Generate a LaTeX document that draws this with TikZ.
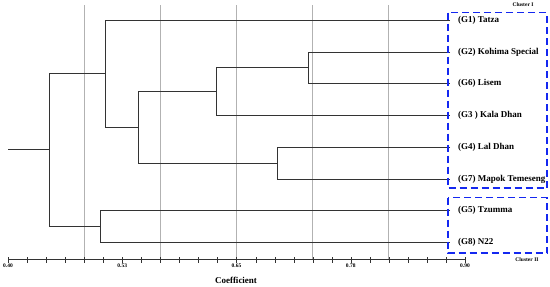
\documentclass[tikz,border=0pt]{standalone}
\usepackage{fontspec}
\setmainfont{Liberation Serif}
\begin{document}
\begin{tikzpicture}[x=1pt,y=-1pt,
  tree/.style={draw=black!80,line width=1pt},
  grid/.style={draw=black!30,line width=1pt},
  leaf/.style={anchor=west,inner sep=0pt,font=\fontsize{9}{10}\selectfont\bfseries},
  ticklab/.style={inner sep=0pt,font=\fontsize{5.5}{6}\selectfont\bfseries},
  clusterbox/.style={draw={rgb,255:red,20;green,40;blue,240},line width=1.5pt,dash pattern=on 7pt off 4pt},
  clusterlab/.style={inner sep=0pt,font=\fontsize{5.5}{6}\selectfont\bfseries}]
\useasboundingbox (0,0) rectangle (550,287);
% grid lines
\foreach \gx in {84.5,160.5,236.5,312.5,388.5}{
  \draw[grid] (\gx,5) -- (\gx,259);
}
% axis
\coordinate (ax0) at (8,259.5);
\coordinate (ax1) at (465,259.5);
\draw[black!80,line width=1pt] (ax0) -- (ax1);
\foreach \k in {0,...,24}{
  \draw[black!80,line width=1pt] ({round(8+19.04*\k)+0.5},257) -- ({round(8+19.04*\k)+0.5},262.5);
}
\node[ticklab] (t40) at (8,266) {0.40};
\node[ticklab] (t53) at (122.2,266) {0.53};
\node[ticklab] (t65) at (236.5,266) {0.65};
\node[ticklab] (t78) at (350.7,266) {0.78};
\node[ticklab] (t90) at (465,266) {0.90};
\node[inner sep=0pt,font=\fontsize{9}{10}\selectfont\bfseries] (coef) at (236,280) {Coefficient};
% leaves
\coordinate (L1) at (450,20.5);
\coordinate (L2) at (450,52.5);
\coordinate (L6) at (450,83.5);
\coordinate (L3) at (450,115.5);
\coordinate (L4) at (450,147.5);
\coordinate (L7) at (450,179.5);
\coordinate (L5) at (450,210.5);
\coordinate (L8) at (450,242.5);
\node[leaf] (n1) at (458,20.5) {(G1) Tatza};
\node[leaf] (n2) at (458,52.5) {(G2) Kohima Special};
\node[leaf] (n6) at (458,83.5) {(G6) Lisem};
\node[leaf] (n3) at (458,115.5) {(G3 ) Kala Dhan};
\node[leaf] (n4) at (458,147.5) {(G4) Lal Dhan};
\node[leaf] (n7) at (458,179.5) {(G7) Mapok Temeseng};
\node[leaf] (n5) at (458,210.5) {(G5) Tzumma};
\node[leaf] (n8) at (458,242.5) {(G8) N22};
% junctions
\coordinate (j26) at (308.5,67.5);
\coordinate (j263) at (216.5,91.5);
\coordinate (j47) at (277.5,163.5);
\coordinate (jA) at (138.5,127.5);
\coordinate (jB) at (105.5,73.5);
\coordinate (j58) at (100.5,226.5);
\coordinate (root) at (49.5,149.5);
\coordinate (start) at (8,149.5);
% tree
\draw[tree] (L2) -| (j26) |- (L6);
\draw[tree] (j26) -| (j263) |- (L3);
\draw[tree] (L4) -| (j47) |- (L7);
\draw[tree] (j263) -| (jA) |- (j47);
\draw[tree] (L1) -| (jB) |- (jA);
\draw[tree] (L5) -| (j58) |- (L8);
\draw[tree] (jB) -| (root) |- (j58);
\draw[tree] (start) -- (root);
% cluster boxes
\draw[clusterbox] (448,12.5) rectangle (547,188);
\draw[clusterbox] (448,197.5) rectangle (547,253);
\node[clusterlab] (c1) at (523,5) {Cluster I};
\node[clusterlab] (c2) at (527,259.5) {Cluster II};
\end{tikzpicture}
\end{document}
